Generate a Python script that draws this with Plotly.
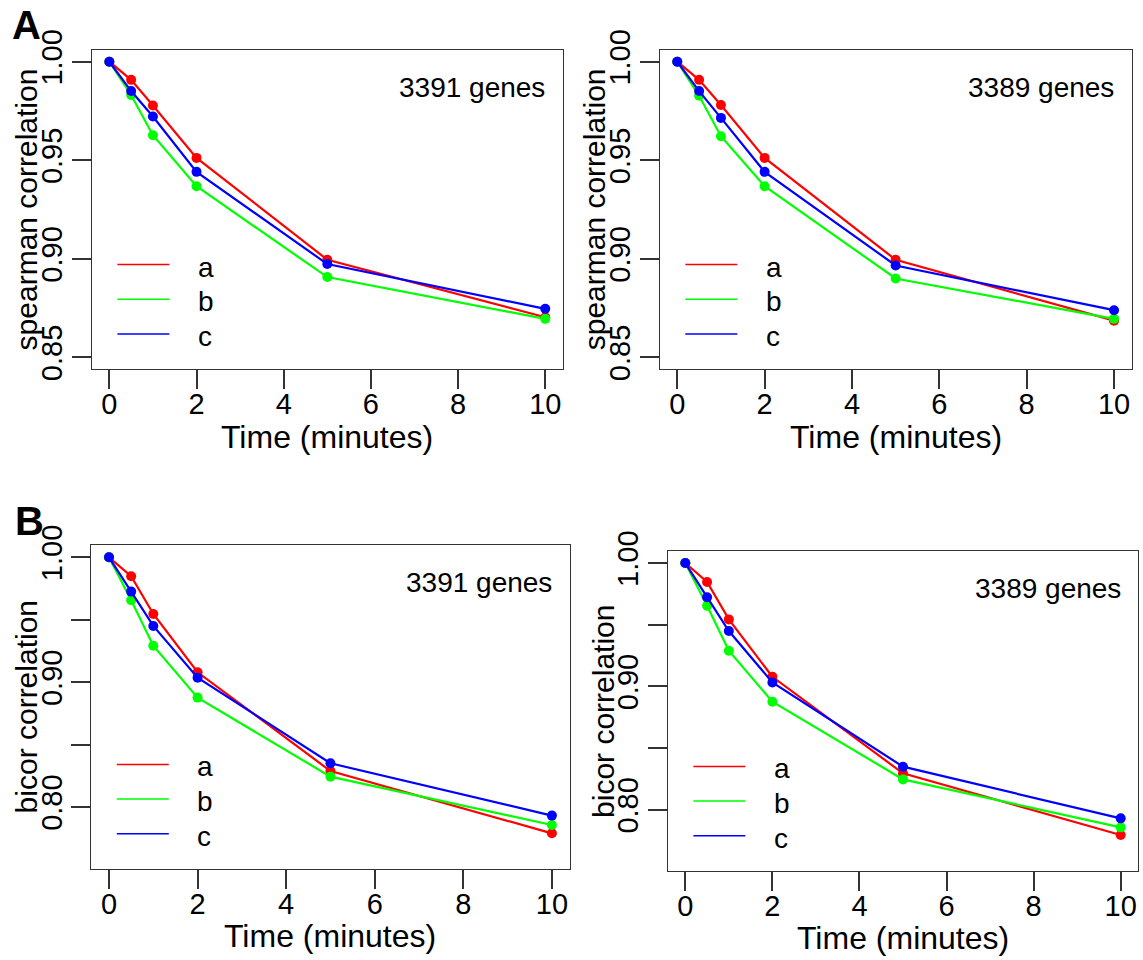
import plotly.graph_objects as go

# ---------------- data ----------------
time_min = [0, 0.5, 1, 2, 5, 10]
series_names = ["a", "b", "c"]

spearman_3391_a = [1.000, 0.9908, 0.9778, 0.9512, 0.8995, 0.8703]
spearman_3391_b = [1.000, 0.9831, 0.9627, 0.9368, 0.8907, 0.8695]
spearman_3391_c = [1.000, 0.9851, 0.9722, 0.9441, 0.8973, 0.8746]

spearman_3389_a = [1.000, 0.9908, 0.9780, 0.9512, 0.8995, 0.8686]
spearman_3389_b = [1.000, 0.9827, 0.9622, 0.9368, 0.8900, 0.8695]
spearman_3389_c = [1.000, 0.9851, 0.9715, 0.9441, 0.8966, 0.8739]

bicor_3391_a = [1.000, 0.9848, 0.9546, 0.9079, 0.8288, 0.7789]
bicor_3391_b = [1.000, 0.9656, 0.9292, 0.8876, 0.8243, 0.7856]
bicor_3391_c = [1.000, 0.9725, 0.9450, 0.9036, 0.8350, 0.7931]

bicor_3389_a = [1.000, 0.9846, 0.9543, 0.9078, 0.8295, 0.7795]
bicor_3389_b = [1.000, 0.9654, 0.9289, 0.8876, 0.8246, 0.7857]
bicor_3389_c = [1.000, 0.9722, 0.9449, 0.9032, 0.8349, 0.7930]

x_ticks = [0, 2, 4, 6, 8, 10]
spearman_ticks = [0.85, 0.90, 0.95, 1.00]
spearman_ticktext = ["0.85", "0.90", "0.95", "1.00"]
bicor_ticks = [0.80, 0.85, 0.90, 0.95, 1.00]
bicor_ticktext = ["0.80", "", "0.90", "", "1.00"]

panel_titles_y = ["spearman correlation", "spearman correlation", "bicor correlation", "bicor correlation"]
gene_labels = ["3391 genes", "3389 genes", "3391 genes", "3389 genes"]
x_title = "Time (minutes)"
panel_letters = ["A", "B"]

# ---------------- style / layout ----------------
W, H = 1143, 960
COLORS = ["#FF0000", "#00FF00", "#0000FF"]
FONT = "Liberation Sans, Arial, sans-serif"
AX_COL = "#333333"


def px(x):
    return x / W


def py(y):
    return 1 - y / H


# plot boxes in pixels: (left, right, top, bottom)
boxes = [
    (91.9, 562.7, 49.9, 369.1),
    (659.8, 1131.5, 49.9, 369.1),
    (91.3, 569.6, 545.3, 868.9),
    (667.9, 1138.1, 551.2, 870.9),
]
y_ranges = [[0.844, 1.006], [0.844, 1.006], [0.7504, 1.0096], [0.7504, 1.0096]]
y_tickvals = [spearman_ticks, spearman_ticks, bicor_ticks, bicor_ticks]
y_ticktext = [spearman_ticktext, spearman_ticktext, bicor_ticktext, bicor_ticktext]

panel_data = [
    [spearman_3391_a, spearman_3391_b, spearman_3391_c],
    [spearman_3389_a, spearman_3389_b, spearman_3389_c],
    [bicor_3391_a, bicor_3391_b, bicor_3391_c],
    [bicor_3389_a, bicor_3389_b, bicor_3389_c],
]

fig = go.Figure()
annotations = []
shapes = []
layout_axes = {}

for i, (series, box) in enumerate(zip(panel_data, boxes)):
    n = "" if i == 0 else str(i + 1)
    xa, ya = "x" + n, "y" + n
    for name, vals, col in zip(series_names, series, COLORS):
        fig.add_trace(go.Scatter(
            x=time_min, y=vals, mode="lines+markers", name=name,
            line=dict(color=col, width=2.2),
            marker=dict(color=col, size=10),
            xaxis=xa, yaxis=ya, showlegend=False, hoverinfo="skip",
        ))
    L, R, T, B = box
    common = dict(
        showline=True, mirror=True, linecolor=AX_COL, linewidth=1.2,
        ticks="outside", ticklen=19, tickwidth=1.5, tickcolor=AX_COL,
        showgrid=False, zeroline=False, automargin=False,
        tickfont=dict(family=FONT, size=29, color="black"),
    )
    layout_axes["xaxis" + n] = dict(
        common, domain=[px(L), px(R)], range=[-0.4, 10.4], anchor=ya,
        tickmode="array", tickvals=x_ticks, ticktext=[str(v) for v in x_ticks],
        ticklabelstandoff=-10,
    )
    layout_axes["yaxis" + n] = dict(
        common, domain=[py(B), py(T)], range=y_ranges[i], anchor=xa,
        tickmode="array", tickvals=y_tickvals[i], ticktext=y_ticktext[i], tickangle=-90,
        ticklabelstandoff=-2,
    )
    # axis titles
    annotations.append(dict(
        text=x_title, x=px((L + R) / 2), y=py(B + 67.5), xref="paper", yref="paper",
        xanchor="center", yanchor="middle", showarrow=False,
        font=dict(family=FONT, size=32, color="black"),
    ))
    annotations.append(dict(
        text=panel_titles_y[i], x=px(L - 65), y=py((T + B) / 2), xref="paper", yref="paper",
        xanchor="center", yanchor="middle", showarrow=False, textangle=-90,
        font=dict(family=FONT, size=30, color="black"),
    ))
    # gene count
    annotations.append(dict(
        text=gene_labels[i], x=px(R - 15.5), y=py(T + 37.5), xref="paper", yref="paper",
        xanchor="right", yanchor="middle", showarrow=False,
        font=dict(family=FONT, size=28, color="black"),
    ))
    # legend (key lines + labels)
    for k, (name, col) in enumerate(zip(series_names, COLORS)):
        ly = B - 104.5 + k * 34.7
        shapes.append(dict(
            type="line", xref="paper", yref="paper",
            x0=px(L + 25.5), x1=px(L + 77.5), y0=py(ly), y1=py(ly),
            line=dict(color=col, width=1.5),
        ))
        annotations.append(dict(
            text=name, x=px(L + 104), y=py(ly + 2.5), xref="paper", yref="paper",
            xanchor="left", yanchor="middle", showarrow=False,
            font=dict(family=FONT, size=28, color="black"),
        ))

# panel letters
annotations.append(dict(text="<b>%s</b>" % panel_letters[0], x=px(26), y=py(25),
                        xref="paper", yref="paper", xanchor="center", yanchor="middle",
                        showarrow=False, font=dict(family=FONT, size=40, color="black")))
annotations.append(dict(text="<b>%s</b>" % panel_letters[1], x=px(29), y=py(521),
                        xref="paper", yref="paper", xanchor="center", yanchor="middle",
                        showarrow=False, font=dict(family=FONT, size=40, color="black")))

fig.update_layout(
    template="none",
    width=W, height=H,
    margin=dict(l=0, r=0, t=0, b=0, autoexpand=False),
    paper_bgcolor="white", plot_bgcolor="white",
    showlegend=False,
    annotations=annotations, shapes=shapes,
    **layout_axes,
)

fig.write_html("out.html")
